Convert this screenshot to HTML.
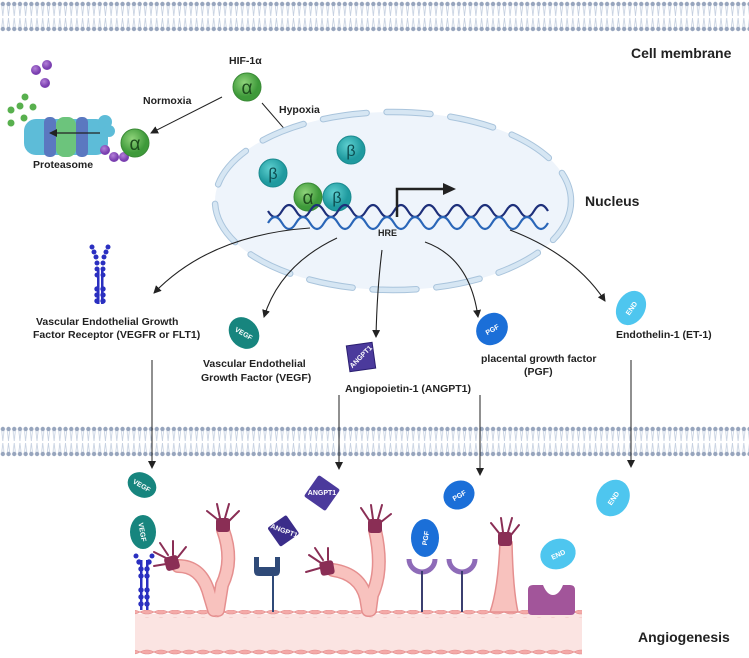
<!DOCTYPE html>
<html><head><meta charset="utf-8"><style>
html,body{margin:0;padding:0;background:#fff;}
svg{display:block;font-family:"Liberation Sans",Arial,sans-serif;}
.t{font-weight:bold;font-size:10.5px;fill:#222;}
.b{font-weight:bold;font-size:14px;fill:#222;}
.w{fill:#fff;font-size:7px;font-weight:bold;}
</style></head><body>
<svg width="749" height="658" viewBox="0 0 749 658" xmlns="http://www.w3.org/2000/svg">
<defs>
<pattern id="mem" x="0" y="0" width="5.7" height="34" patternUnits="userSpaceOnUse">
<line x1="1.5" y1="4" x2="2.8" y2="16" stroke="#c4cfe0" stroke-width="0.8"/>
<line x1="4.2" y1="4" x2="2.8" y2="16" stroke="#c4cfe0" stroke-width="0.8"/>
<line x1="1.5" y1="29" x2="2.8" y2="18" stroke="#c4cfe0" stroke-width="0.8"/>
<line x1="4.2" y1="29" x2="2.8" y2="18" stroke="#c4cfe0" stroke-width="0.8"/>
<circle cx="2.85" cy="4" r="2.2" fill="#97a5bd"/>
<circle cx="2.85" cy="29" r="2.2" fill="#97a5bd"/>
</pattern>
<pattern id="cells" x="0" y="0" width="14" height="8" patternUnits="userSpaceOnUse">
<path d="M0,4 Q7,0 14,4 Q7,8 0,4 z" fill="#f4aaa8" stroke="#e08a8a" stroke-width="0.6"/>
</pattern>
<marker id="ar" markerWidth="8" markerHeight="8" refX="7" refY="4" orient="auto" markerUnits="userSpaceOnUse"><path d="M0,0 L8,4 L0,8 z" fill="#222"/></marker>
<radialGradient id="gA" cx="40%" cy="35%"><stop offset="0" stop-color="#8fd37a"/><stop offset="1" stop-color="#3e9a3a"/></radialGradient>
<radialGradient id="gB" cx="40%" cy="35%"><stop offset="0" stop-color="#5fd0d0"/><stop offset="1" stop-color="#1f9a9f"/></radialGradient>
<radialGradient id="gU" cx="40%" cy="35%"><stop offset="0" stop-color="#b480d8"/><stop offset="1" stop-color="#7a3fb0"/></radialGradient>
</defs>

<rect x="0" y="0" width="749" height="34" fill="url(#mem)"/>
<rect x="0" y="0" width="749" height="34" fill="url(#mem)" transform="translate(0,425)"/>

<text class="b" x="631" y="58">Cell membrane</text>

<!-- HIF -->
<text class="t" x="229" y="64" font-size="11">HIF-1α</text>
<circle cx="247" cy="87" r="14" fill="url(#gA)" stroke="#3a8a36"/>
<text x="247" y="94" text-anchor="middle" font-size="19" fill="#1d4d1d">α</text>
<text class="t" x="143" y="104">Normoxia</text>
<line x1="222" y1="97" x2="151" y2="133" stroke="#222" stroke-width="1" marker-end="url(#ar)"/>
<text class="t" x="279" y="113">Hypoxia</text>
<line x1="262" y1="103" x2="320" y2="170" stroke="#222" stroke-width="1" marker-end="url(#ar)"/>

<!-- proteasome -->
<g>
<circle cx="11" cy="110" r="3.5" fill="#58b04e"/><circle cx="20" cy="106" r="3.5" fill="#58b04e"/><circle cx="25" cy="97" r="3.5" fill="#58b04e"/>
<circle cx="33" cy="107" r="3.5" fill="#58b04e"/><circle cx="24" cy="118" r="3.5" fill="#58b04e"/><circle cx="11" cy="123" r="3.5" fill="#58b04e"/>
<circle cx="36" cy="70" r="5" fill="url(#gU)"/><circle cx="47" cy="65" r="5" fill="url(#gU)"/><circle cx="45" cy="83" r="5" fill="url(#gU)"/>
<rect x="24" y="119" width="84" height="36" rx="12" fill="#5dbcd8"/>
<rect x="44" y="117" width="12" height="40" rx="5" fill="#5b78c0"/>
<rect x="56" y="117" width="20" height="40" rx="8" fill="#6cc47c"/>
<rect x="76" y="117" width="12" height="40" rx="5" fill="#5b78c0"/>
<circle cx="105" cy="122" r="7" fill="#5dbcd8"/><circle cx="109" cy="131" r="6" fill="#5dbcd8"/>
<line x1="100" y1="133" x2="50" y2="133" stroke="#222" stroke-width="1.2" marker-end="url(#ar)"/>
<circle cx="105" cy="150" r="5" fill="url(#gU)"/><circle cx="114" cy="157" r="5" fill="url(#gU)"/><circle cx="124" cy="157" r="5" fill="url(#gU)"/>
<circle cx="135" cy="143" r="14" fill="url(#gA)" stroke="#3a8a36"/>
<text x="135" y="150" text-anchor="middle" font-size="19" fill="#1d4d1d">α</text>
<text class="t" x="33" y="168" font-size="11">Proteasome</text>
</g>

<!-- nucleus -->
<ellipse cx="393" cy="201" rx="178" ry="89" fill="#eef4fb"/>
<ellipse cx="393" cy="201" rx="178" ry="89" fill="none" stroke="#a9c4dc" stroke-width="6.5" stroke-dasharray="44 20" stroke-linecap="round"/>
<ellipse cx="393" cy="201" rx="178" ry="89" fill="none" stroke="#d6e6f3" stroke-width="4.5" stroke-dasharray="44 20" stroke-linecap="round"/>
<text class="b" x="585" y="206">Nucleus</text>

<circle cx="273" cy="173" r="14" fill="url(#gB)" stroke="#1a8a8f"/>
<text x="273" y="179" text-anchor="middle" font-size="16" fill="#0d4d50">β</text>
<circle cx="351" cy="150" r="14" fill="url(#gB)" stroke="#1a8a8f"/>
<text x="351" y="156" text-anchor="middle" font-size="16" fill="#0d4d50">β</text>
<circle cx="308" cy="197" r="14" fill="url(#gA)" stroke="#3a8a36"/>
<text x="308" y="204" text-anchor="middle" font-size="19" fill="#1d4d1d">α</text>
<circle cx="337" cy="197" r="14" fill="url(#gB)" stroke="#1a8a8f"/>
<text x="337" y="203" text-anchor="middle" font-size="16" fill="#0d4d50">β</text>

<!-- DNA -->
<path d="M268,211 q7,12 14,0 t14,0 t14,0 t14,0 t14,0 t14,0 t14,0 t14,0 t14,0 t14,0 t14,0 t14,0 t14,0 t14,0 t14,0 t14,0 t14,0 t14,0 t14,0 t14,0" fill="none" stroke="#1d2f7a" stroke-width="2.2"/>
<path d="M268,223 q7,-12 14,0 t14,0 t14,0 t14,0 t14,0 t14,0 t14,0 t14,0 t14,0 t14,0 t14,0 t14,0 t14,0 t14,0 t14,0 t14,0 t14,0 t14,0 t14,0 t14,0" fill="none" stroke="#2a66b8" stroke-width="2.2"/>
<path d="M397,217 V189 H445" fill="none" stroke="#222" stroke-width="2.5"/>
<path d="M443,183 L456,189 L443,195 z" fill="#222"/>
<text x="378" y="236" font-size="9" font-weight="bold" fill="#222">HRE</text>

<!-- curved arrows -->
<g fill="none" stroke="#222" stroke-width="1.1" marker-end="url(#ar)">
<path d="M310,228 Q210,235 154,293"/>
<path d="M337,238 Q280,265 264,317"/>
<path d="M382,250 Q377,290 376,337"/>
<path d="M425,242 Q470,258 478,317"/>
<path d="M510,230 Q575,255 605,301"/>
</g>

<!-- receptor -->
<g fill="#2a2fc0">
<rect x="97" y="268" width="2.5" height="36"/><rect x="101" y="268" width="2.5" height="36"/>
<circle cx="92" cy="247" r="2.5"/><circle cx="108" cy="247" r="2.5"/><circle cx="94" cy="252" r="2.5"/><circle cx="106" cy="252" r="2.5"/>
<circle cx="96" cy="257" r="2.5"/><circle cx="104" cy="257" r="2.5"/><circle cx="97" cy="263" r="2.5"/><circle cx="103" cy="263" r="2.5"/>
<circle cx="97" cy="269" r="2.5"/><circle cx="103" cy="269" r="2.5"/><circle cx="97" cy="275" r="2.5"/><circle cx="103" cy="275" r="2.5"/>
<circle cx="97" cy="289" r="2.7"/><circle cx="103" cy="289" r="2.7"/><circle cx="97" cy="295" r="2.7"/><circle cx="103" cy="295" r="2.7"/><circle cx="97" cy="301" r="2.7"/><circle cx="103" cy="301" r="2.7"/>
</g>
<text class="t" x="36" y="325">Vascular Endothelial Growth</text>
<text class="t" x="33" y="338">Factor Receptor (VEGFR or FLT1)</text>

<ellipse cx="244" cy="333" rx="14" ry="17" transform="rotate(-40 244 333)" fill="#17857e"/>
<text class="w" x="244" y="336" text-anchor="middle" transform="rotate(30 244 333)">VEGF</text>
<text class="t" x="203" y="367">Vascular Endothelial</text>
<text class="t" x="201" y="381">Growth Factor (VEGF)</text>

<rect x="348" y="344" width="26" height="26" fill="#4b3a9c" stroke="#2a1e70" transform="rotate(-8 361 357)"/>
<text class="w" x="361" y="359" text-anchor="middle" font-size="6" transform="rotate(-45 361 357)">ANGPT1</text>
<text class="t" x="345" y="392">Angiopoietin-1 (ANGPT1)</text>

<ellipse cx="492" cy="329" rx="15" ry="17" transform="rotate(40 492 329)" fill="#1b6fd8"/>
<text class="w" x="492" y="332" text-anchor="middle" transform="rotate(-30 492 329)">PGF</text>
<text class="t" x="481" y="362">placental growth factor</text>
<text class="t" x="524" y="375">(PGF)</text>

<ellipse cx="631" cy="308" rx="14" ry="18" transform="rotate(30 631 308)" fill="#4ec6ef"/>
<text class="w" x="631" y="311" text-anchor="middle" transform="rotate(-55 631 308)">END</text>
<text class="t" x="616" y="338">Endothelin-1 (ET-1)</text>

<!-- vertical arrows -->
<g stroke="#222" stroke-width="1" marker-end="url(#ar)">
<line x1="152" y1="360" x2="152" y2="468"/>
<line x1="339" y1="395" x2="339" y2="469"/>
<line x1="480" y1="395" x2="480" y2="475"/>
<line x1="631" y1="360" x2="631" y2="467"/>
</g>

<!-- vessel -->
<rect x="135" y="614" width="447" height="38" fill="#fbe4e2"/>
<rect x="135" y="610" width="447" height="8" fill="url(#cells)"/>
<rect x="135" y="648" width="447" height="8" fill="url(#cells)"/>
<!-- sprouts -->
<g fill="none" stroke-linecap="round">
<g stroke="#e58f8f" stroke-width="14">
<path d="M178,566 Q200,566 208,590 L214,610"/>
<path d="M223,530 Q234,560 222,585 L218,610"/>
<path d="M333,570 Q360,574 366,598 L368,610"/>
<path d="M375,530 Q384,570 372,595 L370,610"/>
</g>
<g stroke="#f8c2be" stroke-width="11">
<path d="M178,566 Q200,566 208,590 L214,610"/>
<path d="M223,530 Q234,560 222,585 L218,610"/>
<path d="M333,570 Q360,574 366,598 L368,610"/>
<path d="M375,530 Q384,570 372,595 L370,610"/>
</g>
</g>
<path d="M500,542 L512,542 Q513,590 518,612 L490,612 Q498,590 500,542 z" fill="#f8c2be" stroke="#e58f8f" stroke-width="1.5"/>
<g fill="#8a2e55">
<rect x="165" y="556" width="14" height="14" rx="3" transform="rotate(-15 172 563)"/>
<rect x="216" y="518" width="14" height="14" rx="3"/>
<rect x="320" y="561" width="14" height="14" rx="3" transform="rotate(-10 327 568)"/>
<rect x="368" y="519" width="14" height="14" rx="3"/>
<rect x="498" y="532" width="14" height="14" rx="3"/>
</g>
<g stroke="#8a2e55" stroke-width="2" fill="none" stroke-linecap="round">
<path d="M166,558 l-12,-6 M168,555 l-8,-12 M173,555 l0,-14 M178,557 l8,-10 M166,564 l-12,2"/>
<path d="M217,519 l-10,-8 M220,518 l-3,-14 M225,518 l4,-14 M229,521 l10,-10"/>
<path d="M321,563 l-12,-8 M323,560 l-8,-12 M328,560 l0,-12 M320,568 l-14,4"/>
<path d="M369,520 l-8,-12 M373,519 l-2,-14 M378,519 l4,-14 M381,522 l10,-8"/>
<path d="M499,533 l-8,-10 M503,532 l-2,-14 M508,532 l4,-14 M511,535 l8,-10"/>
</g>

<!-- bound ligands and receptors -->
<ellipse cx="142" cy="485" rx="15" ry="12" transform="rotate(30 142 485)" fill="#17857e"/>
<text class="w" x="142" y="488" text-anchor="middle" transform="rotate(30 142 485)">VEGF</text>
<ellipse cx="143" cy="532" rx="13" ry="17" fill="#17857e"/>
<text class="w" x="143" y="535" text-anchor="middle" transform="rotate(80 143 532)">VEGF</text>
<g fill="#2a2fc0">
<rect x="140" y="560" width="2.5" height="50"/><rect x="146" y="560" width="2.5" height="50"/>
<circle cx="136" cy="556" r="2.5"/><circle cx="152" cy="556" r="2.5"/><circle cx="139" cy="562" r="2.7"/><circle cx="149" cy="562" r="2.7"/>
<circle cx="141" cy="569" r="2.7"/><circle cx="147" cy="569" r="2.7"/><circle cx="141" cy="576" r="2.7"/><circle cx="147" cy="576" r="2.7"/>
<circle cx="141" cy="590" r="2.7"/><circle cx="147" cy="590" r="2.7"/><circle cx="141" cy="597" r="2.7"/><circle cx="147" cy="597" r="2.7"/><circle cx="141" cy="604" r="2.7"/><circle cx="147" cy="604" r="2.7"/>
</g>
<rect x="309" y="480" width="26" height="26" rx="2" fill="#4b3a9c" transform="rotate(35 322 493)"/>
<text class="w" x="322" y="495" font-size="6.5" text-anchor="middle">ANGPT1</text>
<rect x="272" y="520" width="23" height="23" rx="2" fill="#3b2d8a" transform="rotate(55 284 531)"/>
<text class="w" x="284" y="533" font-size="6" text-anchor="middle" transform="rotate(20 284 531)">ANGPT1</text>
<path d="M259,557 v10 h16 v-10 h5 v14 q0,5 -5,5 h-16 q-5,0 -5,-5 v-14 z" fill="#2f4a78"/>
<rect x="272" y="576" width="2" height="36" fill="#2f4a78"/>
<ellipse cx="459" cy="495" rx="16" ry="14" transform="rotate(-30 459 495)" fill="#1b6fd8"/>
<text class="w" x="459" y="498" text-anchor="middle" transform="rotate(-30 459 495)">PGF</text>
<ellipse cx="425" cy="538" rx="14" ry="19" fill="#1b6fd8"/>
<text class="w" x="425" y="541" text-anchor="middle" transform="rotate(-80 425 538)">PGF</text>
<path d="M409,559 a13,13 0 0 0 26,0" fill="none" stroke="#8e6bb8" stroke-width="5"/>
<rect x="421" y="571" width="2" height="41" fill="#3b3f70"/>
<path d="M449,559 a13,13 0 0 0 26,0" fill="none" stroke="#8e6bb8" stroke-width="5"/>
<rect x="461" y="571" width="2" height="41" fill="#3b3f70"/>
<ellipse cx="558" cy="554" rx="18" ry="15" transform="rotate(-20 558 554)" fill="#4ec6ef"/>
<text class="w" x="558" y="557" text-anchor="middle" transform="rotate(-25 558 554)">END</text>
<ellipse cx="613" cy="498" rx="16" ry="19" transform="rotate(30 613 498)" fill="#4ec6ef"/>
<text class="w" x="613" y="501" text-anchor="middle" transform="rotate(-55 613 498)">END</text>
<path d="M528,590 q0,-5 5,-5 h10 q4,10 10,10 q6,0 10,-10 h7 q5,0 5,5 v21 q0,4 -4,4 h-39 q-4,0 -4,-4 z" fill="#a2559a"/>

<text class="b" x="638" y="642" font-size="15">Angiogenesis</text>
</svg>
</body></html>
